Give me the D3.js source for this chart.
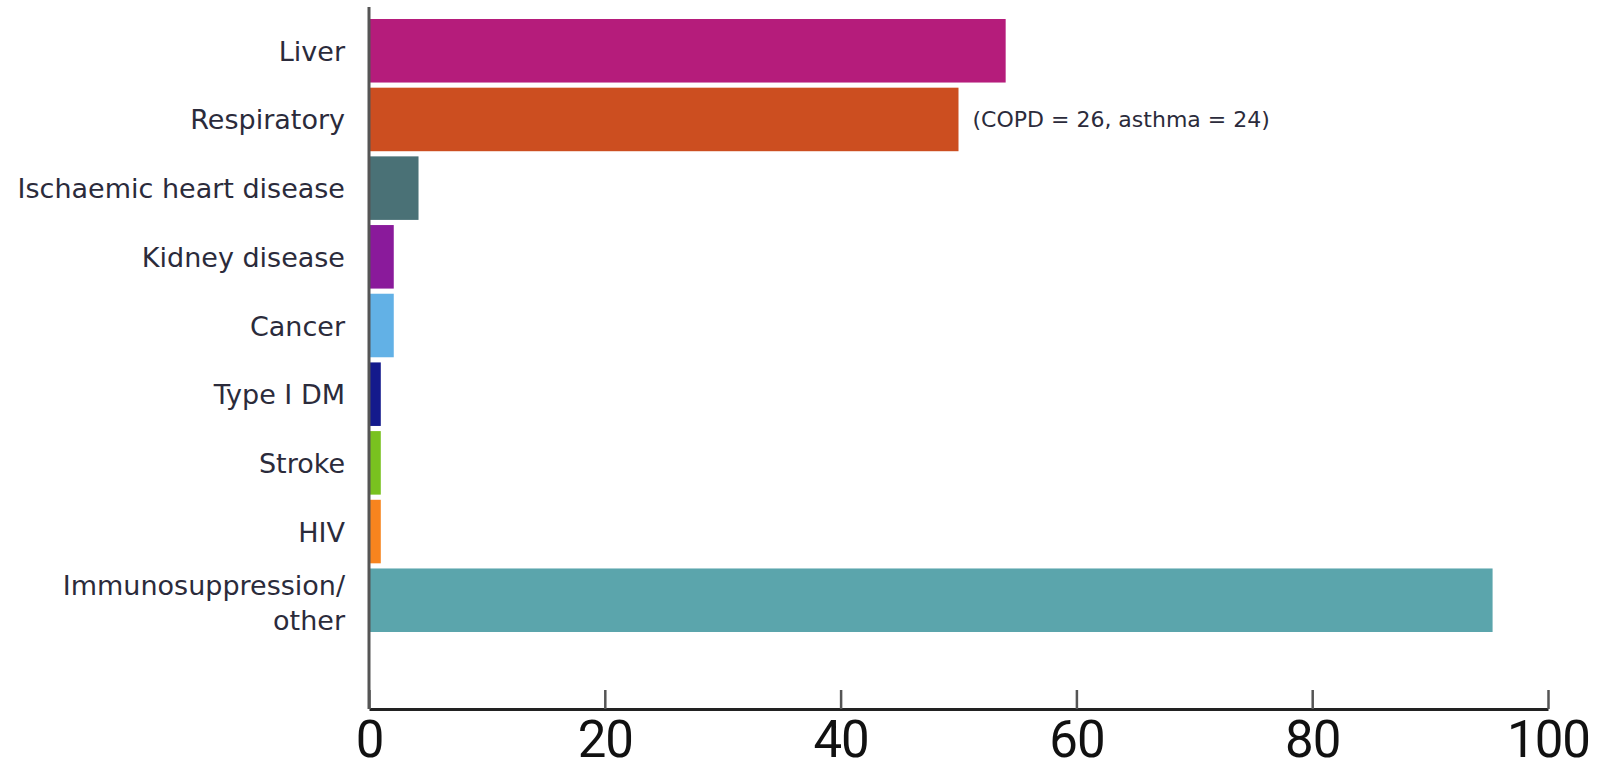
<!DOCTYPE html>
<html>
<head>
<meta charset="utf-8">
<script src="https://cdn.jsdelivr.net/npm/d3@7"></script>
<style>
  body { margin: 0; background: #fff; }
  svg { display: block; }
</style>
</head>
<body>
<div id="chart"></div>
<script>
// data
var categories = ["Liver", "Respiratory", "Ischaemic heart disease", "Kidney disease", "Cancer",
    "Type I DM", "Stroke", "HIV", "Immunosuppression/\nother"];
var values = [54, 50, 4.2, 2.1, 2.1, 1, 1, 1, 95.3];
var colours = ["#B51C7B", "#CC4E20", "#4A7176", "#8A1A9B", "#62B1E6", "#141A8C", "#79C21F", "#F7841E", "#5BA5AC"];
var xTicks = [0, 20, 40, 60, 80, 100];
var note = { category: "Respiratory", text: "(COPD = 26, asthma = 24)" };

var svgWidth = 1612, svgHeight = 769;
var margin = {top: 7, right: 64, bottom: 60, left: 369};
var width = svgWidth - margin.left - margin.right;
var height = svgHeight - margin.top - margin.bottom;

var labelFont = "'DejaVu Sans', sans-serif";

var svg = d3.select("#chart").append("svg")
    .attr("width", svgWidth).attr("height", svgHeight);

var g = svg.append("g")
    .attr("transform", "translate(" + margin.left + " " + margin.top + ")");

var x = d3.scaleLinear().domain([0, 100]).range([0, width]);
var y = d3.scaleBand().domain(categories).range([12, 625]).paddingInner(0.075).paddingOuter(0);

// bars
g.selectAll("rect.bar")
    .data(categories).enter().append("rect")
        .attr("class", "bar")
        .attr("x", x(0))
        .attr("y", function(d) { return y(d); })
        .attr("height", y.bandwidth())
        .attr("width", function(d, i) { return x(values[i]) - x(0); })
        .attr("fill", function(d, i) { return colours[i]; });

// category labels
var labels = g.selectAll("text.cat")
    .data(categories).enter().append("text")
        .attr("class", "cat")
        .attr("text-anchor", "end")
        .attr("font-family", labelFont)
        .attr("font-size", "27px")
        .style("fill", "#2b2b3b")
        .attr("y", function(d) {
            var lines = d.split("\n").length;
            return y(d) + y.bandwidth() / 2 + 10 - (lines - 1) * 15;
        });
labels.each(function(d) {
    var t = d3.select(this);
    d.split("\n").forEach(function(line, k) {
        t.append("tspan").attr("x", -24).attr("dy", k === 0 ? 0 : 35).text(line);
    });
});

// note
g.append("text")
    .attr("x", x(values[categories.indexOf(note.category)]) + 14)
    .attr("y", y(note.category) + y.bandwidth() / 2 + 8)
    .attr("font-family", labelFont)
    .attr("font-size", "22px")
    .style("fill", "#2b2b3b")
    .text(note.text);

// x axis
var xAxisCall = d3.axisBottom(x).tickValues(xTicks).tickSize(-19).tickSizeOuter(0).tickPadding(12);
var xAxis = g.append("g")
    .attr("class", "x axis")
    .attr("transform", "translate(0 " + height + ")")
    .call(xAxisCall);
xAxis.select(".domain").attr("stroke", "#222").attr("stroke-width", 3);
xAxis.selectAll(".tick line").attr("stroke", "#555").attr("stroke-width", 2.5);
xAxis.selectAll("text")
    .attr("font-family", "Roboto, 'Liberation Sans', sans-serif")
    .attr("font-size", "51px")
    .attr("letter-spacing", "-1px")
    .attr("fill", "#111");

// y axis line
g.append("line")
    .attr("x1", 0).attr("x2", 0)
    .attr("y1", 0).attr("y2", height)
    .attr("stroke", "#555").attr("stroke-width", 3);
</script>
</body>
</html>
